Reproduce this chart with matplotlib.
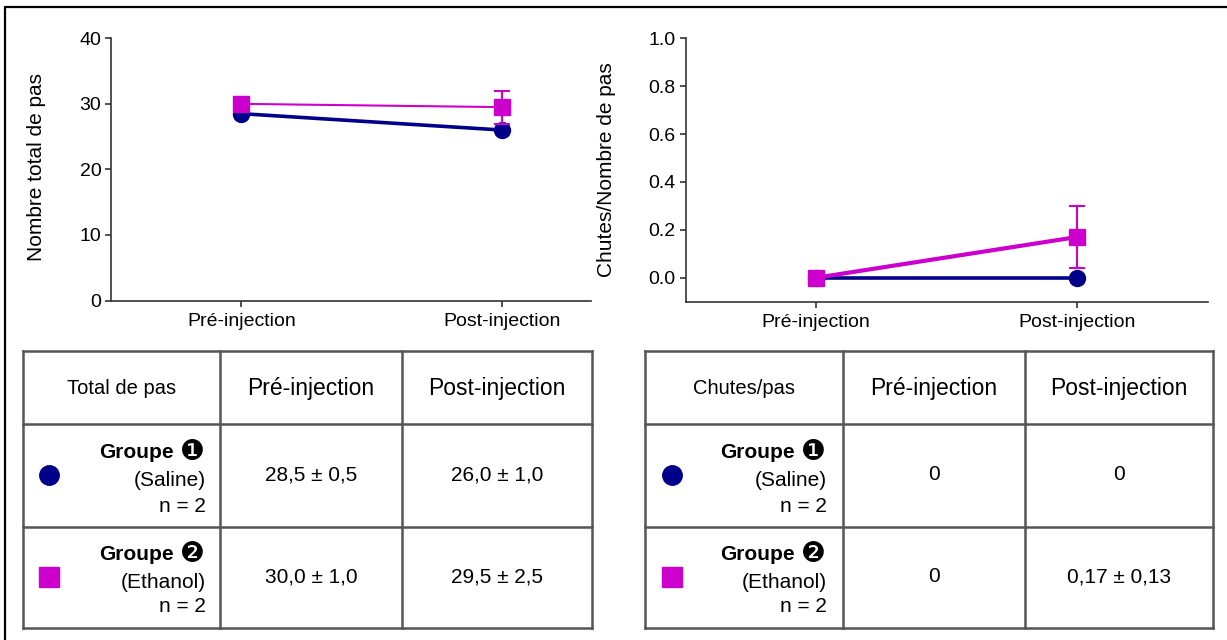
import matplotlib
matplotlib.use("Agg")
import matplotlib.pyplot as plt

# donnees
conditions = ['Pré-injection', 'Post-injection']
groupes = ['Groupe', 'Groupe']
numeros = ['❶', '❷']
traitements = ['(Saline)', '(Ethanol)']
effectifs = [2, 2]

pas_saline = [28.5, 26.0]
pas_saline_err = [0.5, 1.0]
pas_ethanol = [30.0, 29.5]
pas_ethanol_err = [1.0, 2.5]

chutes_saline = [0, 0]
chutes_saline_err = [0, 0]
chutes_ethanol = [0, 0.17]
chutes_ethanol_err = [0, 0.13]

bleu = '#00008B'
magenta = '#CC00CC'
police = ['Liberation Sans', 'DejaVu Sans']
plt.rcParams['font.family'] = police

W, H = 1227, 640
fig = plt.figure(figsize=(W / 100, H / 100), dpi=100)


def px_axes(x0, y0, x1, y1):
    # coordonnees en pixels (origine en haut a gauche)
    return fig.add_axes([x0 / W, 1 - y1 / H, (x1 - x0) / W, (y1 - y0) / H])


def style(ax):
    for s in ['top', 'right']:
        ax.spines[s].set_visible(False)
    for s in ['left', 'bottom']:
        ax.spines[s].set_linewidth(1.2)
        ax.spines[s].set_color('#333333')
    ax.tick_params(length=4, width=1.2, color='#333333', labelsize=14, pad=3)
    ax.tick_params(axis='x', pad=5)


x = list(range(len(conditions)))

# graphe 1 : nombre total de pas
ax1 = px_axes(111, 38.3, 591, 300.5)
ax1.errorbar(x, pas_saline, yerr=pas_saline_err, color=bleu, lw=2.6,
             marker='o', ms=11.5, capsize=3, elinewidth=1.5, capthick=1.5, zorder=3)
ax1.errorbar(x, pas_ethanol, yerr=pas_ethanol_err, color=magenta, lw=1.5,
             marker='s', ms=11, capsize=6, elinewidth=1.5, capthick=1.5, zorder=4)
ax1.set_xlim(-0.5, 1.34)
ax1.set_ylim(0, 40)
ax1.set_yticks([0, 10, 20, 30, 40])
ax1.set_xticks(x)
ax1.set_xticklabels(conditions)
ax1.set_ylabel('Nombre total de pas', fontsize=15)
ax1.yaxis.set_label_coords(-0.135, 0.51)
style(ax1)

# graphe 2 : chutes / nombre de pas
ax2 = px_axes(685.5, 38.3, 1207.5, 301.7)
ax2.errorbar(x, chutes_saline, yerr=chutes_saline_err, color=bleu, lw=2.6,
             marker='o', ms=11.5, capsize=3, elinewidth=1.5, capthick=1.5, zorder=3)
ax2.errorbar(x, chutes_ethanol, yerr=chutes_ethanol_err, color=magenta, lw=3,
             marker='s', ms=11, capsize=6, elinewidth=1.5, capthick=1.5, zorder=4)
ax2.set_xlim(-0.5, 1.5)
ax2.set_ylim(-0.1, 1.0)
ax2.set_yticks([0, 0.2, 0.4, 0.6, 0.8, 1.0])
ax2.set_yticklabels(['%.1f' % v for v in [0, 0.2, 0.4, 0.6, 0.8, 1.0]])
ax2.set_xticks(x)
ax2.set_xticklabels(conditions)
ax2.set_ylabel('Chutes/Nombre de pas', fontsize=15)
ax2.yaxis.set_label_coords(-0.133, 0.5)
style(ax2)

# calque pour les tableaux et le cadre
bg = fig.add_axes([0, 0, 1, 1], zorder=-1)
bg.set_xlim(0, W)
bg.set_ylim(H, 0)
bg.axis('off')

# cadre exterieur
bg.plot([5, 5, W], [H, 7, 7], color='black', lw=1.6)


def fr(v):
    return ('%.1f' % v).replace('.', ',')


def fr2(v):
    return ('%.2f' % v).replace('.', ',')


def cellule(m, e, fmt):
    if m == 0 and e == 0:
        return '0'
    return fmt(m) + ' ± ' + fmt(e)


def tableau(xs, titre, valeurs, lx, mx):
    ys = [351, 424, 527, 628]
    for xv in xs:
        bg.plot([xv, xv], [ys[0], ys[-1]], color='#555555', lw=1.8, solid_capstyle='projecting')
    for yv in ys:
        bg.plot([xs[0], xs[-1]], [yv, yv], color='#555555', lw=1.8, solid_capstyle='projecting')
    hy = 388
    bg.text((xs[0] + xs[1]) / 2, hy, titre, ha='center', va='center', fontsize=14.5)
    for j, c in enumerate(conditions):
        bg.text((xs[j + 1] + xs[j + 2]) / 2, hy, c, ha='center', va='center', fontsize=16.5)
    lignes = [(453, 481, 507, 475), (555, 583, 607, 577)]
    marqueurs = [('o', bleu), ('s', magenta)]
    for i in range(2):
        y1, y2, y3, yc = lignes[i]
        bg.text(lx - 32, y1, groupes[i], ha='right', va='center', fontsize=15,
                fontweight='bold')
        bg.text(lx - 14, y1 - 1, numeros[i], ha='center', va='center', fontsize=20,
                family=['DejaVu Sans'])
        bg.text(lx, y2, traitements[i], ha='right', va='center', fontsize=15)
        bg.text(lx, y3, 'n = %d' % effectifs[i], ha='right', va='center', fontsize=15)
        mk, col = marqueurs[i]
        bg.plot([mx], [yc], marker=mk, color=col, ms=14, ls='none')
        for j in range(2):
            bg.text((xs[j + 1] + xs[j + 2]) / 2, yc, valeurs[i][j], ha='center',
                    va='center', fontsize=15)


vals_pas = [[cellule(pas_saline[j], pas_saline_err[j], fr) for j in x],
            [cellule(pas_ethanol[j], pas_ethanol_err[j], fr) for j in x]]
vals_chutes = [[cellule(chutes_saline[j], chutes_saline_err[j], fr2) for j in x],
               [cellule(chutes_ethanol[j], chutes_ethanol_err[j], fr2) for j in x]]

tableau([23, 220, 402, 592], 'Total de pas', vals_pas, 206, 49)
tableau([645, 843, 1025, 1213], 'Chutes/pas', vals_chutes, 827, 672)

fig.savefig('out.png', dpi=100)
